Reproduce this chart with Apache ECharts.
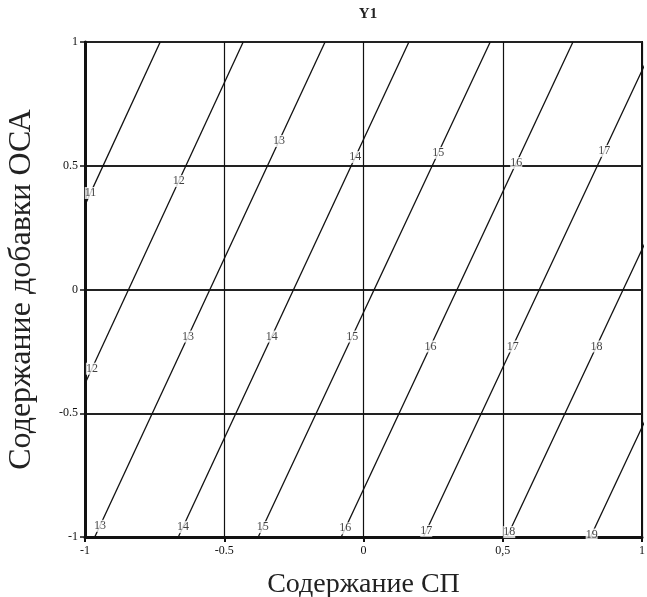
<!DOCTYPE html>
<html>
<head>
<meta charset="utf-8">
<script src="https://cdn.jsdelivr.net/npm/echarts@6/dist/echarts.min.js"></script>
<style>html,body{margin:0;padding:0;background:#fff}#c{width:647px;height:597px}</style>
</head>
<body>
<div id="c"></div>
<script>
// Contour levels of Y1 and where each straight contour line meets y = -1 and y = 1
const levels = [11, 12, 13, 14, 15, 16, 17, 18, 19];
const xAtBottom = [-1.55, -1.255, -0.965, -0.665, -0.378, -0.08, 0.215, 0.515, 0.815];
const xAtTop = [-0.73, -0.432, -0.138, 0.163, 0.455, 0.752, 1.048, 1.35, 1.65];

// label rows: level numbers and y-value of the label on that contour
const upperLabelLevels = [11, 12, 13, 14, 15, 16, 17];
const upperLabelY = [0.39, 0.438, 0.60, 0.535, 0.552, 0.511, 0.56];
const middleLabelLevels = [12, 13, 14, 15, 16, 17, 18];
const middleLabelY = [-0.32, -0.19, -0.19, -0.19, -0.23, -0.23, -0.23];
const lowerLabelLevels = [13, 14, 15, 16, 17, 18, 19];
const lowerLabelY = [-0.955, -0.96, -0.96, -0.965, -0.975, -0.98, -0.99];

const xTickLabels = {'-1': '-1', '-0.5': '-0.5', '0': '0', '0.5': '0,5', '1': '1'};
const yTickLabels = {'-1': '-1', '-0.5': '-0.5', '0': '0', '0.5': '0.5', '1': '1'};

const serif = 'Liberation Serif, Times New Roman, serif';

function xOnLine(level, y) {
  const i = levels.indexOf(level);
  const t = (y + 1) / 2;
  return xAtBottom[i] + (xAtTop[i] - xAtBottom[i]) * t;
}

const series = [];
levels.forEach((lv, i) => {
  series.push({
    type: 'line', name: 'L' + lv, symbol: 'none', clip: true, silent: true,
    lineStyle: {color: '#111', width: 1.3},
    data: [[xAtBottom[i], -1], [xAtTop[i], 1]],
    z: 3
  });
});

function labelPoints(lvls, ys) {
  return lvls.map((lv, k) => ({value: [xOnLine(lv, ys[k]), ys[k]], name: String(lv)}));
}
const labelData = [].concat(
  labelPoints(upperLabelLevels, upperLabelY),
  labelPoints(middleLabelLevels, middleLabelY),
  labelPoints(lowerLabelLevels, lowerLabelY)
);
series.push({
  type: 'scatter', symbolSize: 1, itemStyle: {color: 'rgba(0,0,0,0)'}, silent: true, z: 5,
  data: labelData,
  label: {
    show: true, position: 'inside', formatter: p => p.name,
    fontFamily: serif, fontSize: 12, color: '#111',
    backgroundColor: '#fff', padding: [0, 0]
  }
});

const chart = echarts.init(document.getElementById('c'), null, {renderer: 'canvas'});
chart.setOption({
  animation: false,
  backgroundColor: '#fff',
  title: {
    text: 'Y1', left: 363, top: 2, textAlign: 'center',
    textStyle: {fontFamily: serif, fontSize: 15, fontWeight: 'bold', color: '#222'}
  },
  grid: {left: 85, right: 5, top: 42, bottom: 60, outerBoundsMode: 'none', containLabel: false,
         show: true, borderColor: '#111', borderWidth: 2, backgroundColor: 'transparent'},
  xAxis: {
    type: 'value', min: -1, max: 1, interval: 0.5,
    name: 'Содержание СП', nameLocation: 'middle', nameGap: 34,
    nameTextStyle: {fontFamily: serif, fontSize: 28, color: '#222'},
    axisLine: {show: true, onZero: false, lineStyle: {color: '#111', width: 3}},
    axisTick: {show: true, length: 5, lineStyle: {color: '#111', width: 2}},
    axisLabel: {fontFamily: serif, fontSize: 12, color: '#111', margin: 8, formatter: v => xTickLabels[String(v)] ?? String(v)},
    splitLine: {show: true, lineStyle: {color: '#111', width: 1.2}}
  },
  yAxis: {
    type: 'value', min: -1, max: 1, interval: 0.5,
    name: 'Содержание добавки ОСА', nameLocation: 'middle', nameGap: 47,
    nameTextStyle: {fontFamily: serif, fontSize: 32, color: '#222'},
    axisLine: {show: true, onZero: false, lineStyle: {color: '#111', width: 3}},
    axisTick: {show: true, length: 5, lineStyle: {color: '#111', width: 1.5}},
    axisLabel: {fontFamily: serif, fontSize: 12, color: '#111', margin: 7, formatter: v => yTickLabels[String(v)] ?? String(v)},
    splitLine: {show: true, lineStyle: {color: '#222', width: 2}}
  },
  series: series
});
</script>
</body>
</html>
